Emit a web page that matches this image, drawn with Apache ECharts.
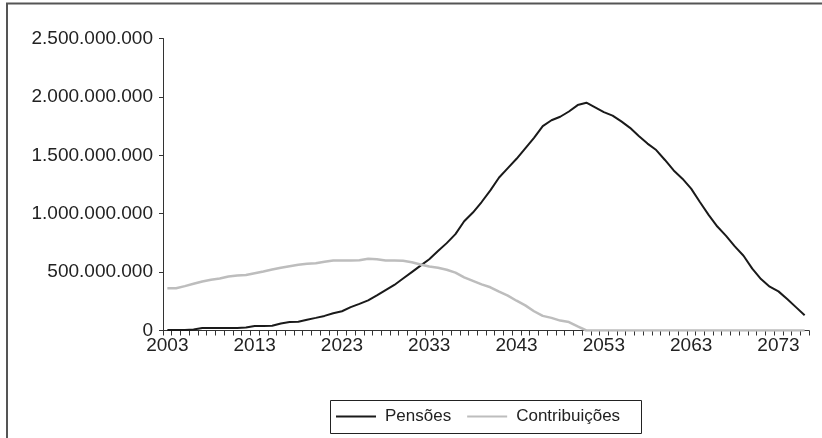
<!DOCTYPE html>
<html>
<head>
<meta charset="utf-8">
<script src="https://cdn.jsdelivr.net/npm/echarts@6/dist/echarts.min.js"></script>
<style>
html,body{margin:0;padding:0;background:#fff;}
#c{width:822px;height:438px;}
</style>
</head>
<body>
<div id="c"></div>
<script>
const years = [];
for (let y = 2003; y <= 2076; y++) years.push(String(y));

// values in millions
const pensoes = [5,5,5,8,22,22,22,22,22,25,38,38,40,60,72,75,92,108,125,148,
  165,200,228,258,300,345,390,445,500,555,610,680,748,825,935,1010,1100,1200,1310,1390,
  1470,1560,1650,1750,1800,1830,1875,1930,1950,1910,1870,1840,1790,1735,1665,1600,1545,1460,1370,1300,
  1215,1100,990,890,810,720,640,530,440,375,335,270,200,130];
const contribuicoes = [362,362,380,400,420,435,445,462,470,475,490,505,522,538,550,562,572,575,588,600,
  600,600,602,615,610,600,600,598,585,565,548,538,520,495,455,425,395,370,332,298,
  255,215,165,125,108,85,72,35,0,0,0,0,0,0,0,0,0,0,0,0,
  0,0,0,0,0,0,0,0,0,0,0,0,0,0];

const seriesNames = ['Pensões', 'Contribuições'];
const yMax = 2500000000, yStep = 500000000;

const toUnits = arr => arr.map(v => v * 1e6);
function fmt(v) {
  return String(Math.round(v)).replace(/\B(?=(\d{3})+(?!\d))/g, '.');
}

const chart = echarts.init(document.getElementById('c'), null, {renderer: 'canvas'});
const font = 'Liberation Sans, Arial, sans-serif';
chart.setOption({
  animation: false,
  backgroundColor: '#fff',
  grid: {left: 163, right: 13, top: 38.5, bottom: 107.5, containLabel: false},
  xAxis: {
    type: 'category',
    data: years,
    boundaryGap: true,
    axisLine: {lineStyle: {color: '#333', width: 1}},
    axisTick: {show: true, interval: 0, length: 5, lineStyle: {color: '#333'}},
    axisLabel: {interval: 9, color: '#222', fontFamily: font, fontSize: 19, margin: 6},
    splitLine: {show: false}
  },
  yAxis: {
    type: 'value',
    min: 0, max: yMax, interval: yStep,
    axisLine: {show: true, lineStyle: {color: '#333', width: 1}},
    axisTick: {show: true, length: 4, lineStyle: {color: '#333'}},
    axisLabel: {color: '#222', fontFamily: font, fontSize: 19, margin: 10, formatter: fmt},
    splitLine: {show: false}
  },
  legend: {
    left: 334, top: 406,
    icon: 'rect',
    itemWidth: 40, itemHeight: 2, itemGap: 16,
    padding: 2,
    textStyle: {fontFamily: font, fontSize: 17, color: '#222', padding: [0,0,0,4]},
    data: seriesNames
  },
  graphic: [
    {type: 'rect', silent: true, shape: {x: 330.5, y: 400.5, width: 311, height: 33},
     style: {fill: 'none', stroke: '#222', lineWidth: 1}},
    {type: 'rect', silent: true, shape: {x: 7, y: 3.5, width: 900, height: 500},
     style: {fill: 'none', stroke: '#555', lineWidth: 2}}
  ],
  series: [
    {name: seriesNames[0], type: 'line', data: toUnits(pensoes), symbol: 'none',
     lineStyle: {color: '#1a1a1a', width: 2}, itemStyle: {color: '#1a1a1a'}},
    {name: seriesNames[1], type: 'line', data: toUnits(contribuicoes), symbol: 'none',
     lineStyle: {color: '#bdbdbd', width: 2.5}, itemStyle: {color: '#bdbdbd'}}
  ]
});
</script>
</body>
</html>
